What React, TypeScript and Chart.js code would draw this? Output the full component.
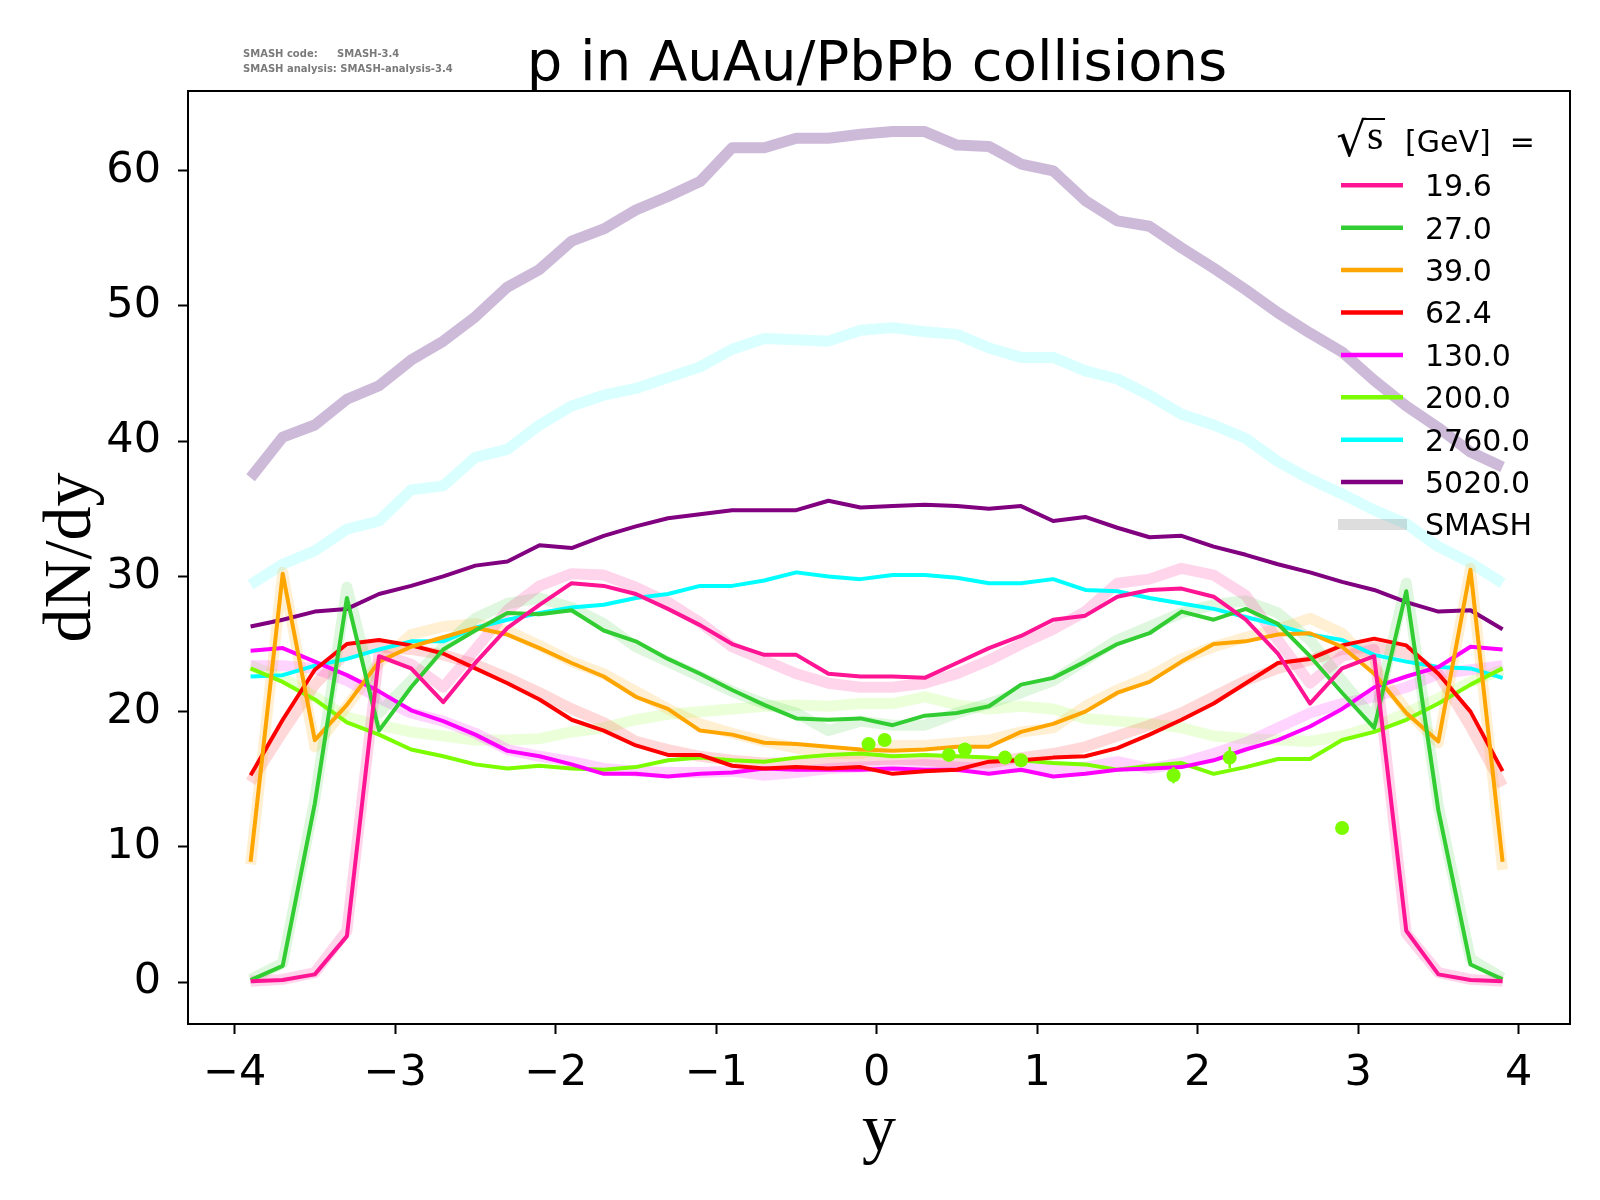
import React, { useEffect, useRef } from 'react';
import { Chart, registerables } from 'chart.js';

Chart.register(...registerables);

// ---------------- data ----------------
const rapidity = [
  -3.9, -3.7, -3.5, -3.3, -3.1, -2.9, -2.7, -2.5, -2.3, -2.1,
  -1.9, -1.7, -1.5, -1.3, -1.1, -0.9, -0.7, -0.5, -0.3, -0.1,
  0.1, 0.3, 0.5, 0.7, 0.9, 1.1, 1.3, 1.5, 1.7, 1.9,
  2.1, 2.3, 2.5, 2.7, 2.9, 3.1, 3.3, 3.5, 3.7, 3.9,
];

const energyLabels = ['19.6', '27.0', '39.0', '62.4', '130.0', '200.0', '2760.0', '5020.0'];
const lineColors = ['#FF1493', '#32CD32', '#FFA500', '#FF0000', '#FF00FF', '#7CFC00', '#00FFFF', '#800080'];
const smashColors = [
  'rgba(255,20,147,0.18)',
  'rgba(50,205,50,0.16)',
  'rgba(255,165,0,0.17)',
  'rgba(255,0,0,0.15)',
  'rgba(255,0,255,0.17)',
  'rgba(124,252,0,0.15)',
  'rgba(0,255,255,0.15)',
  'rgba(150,110,175,0.48)',
];

// measured curves (thin lines)
const dndy19 = [0.07, 0.15, 0.57, 3.4, 24.1, 23.2, 20.7, 23.6, 26.2, 27.9, 29.5, 29.3, 28.7, 27.6, 26.4, 25.0, 24.2, 24.2, 22.8, 22.6, 22.6, 22.5, 23.6, 24.7, 25.6, 26.8, 27.1, 28.5, 29.0, 29.1, 28.5, 26.8, 24.3, 20.6, 23.2, 24.1, 3.8, 0.57, 0.15, 0.07];
const dndy27 = [0.15, 1.2, 13.2, 28.4, 18.6, 21.8, 24.6, 26.0, 27.3, 27.2, 27.5, 26.0, 25.2, 23.9, 22.8, 21.6, 20.5, 19.5, 19.4, 19.5, 19.0, 19.7, 19.9, 20.4, 22.0, 22.5, 23.7, 25.0, 25.8, 27.4, 26.8, 27.6, 26.5, 24.1, 21.4, 18.8, 28.9, 12.7, 1.3, 0.2];
const dndy39 = [8.9, 30.2, 17.9, 20.5, 23.7, 24.8, 25.5, 26.2, 25.7, 24.7, 23.6, 22.6, 21.1, 20.2, 18.6, 18.3, 17.7, 17.6, 17.4, 17.2, 17.1, 17.2, 17.4, 17.4, 18.5, 19.1, 20.0, 21.4, 22.2, 23.7, 25.0, 25.2, 25.7, 25.8, 24.8, 22.8, 19.9, 17.8, 30.5, 8.9];
const dndy62 = [15.3, 19.4, 23.1, 25.0, 25.3, 24.9, 24.3, 23.2, 22.1, 20.9, 19.4, 18.6, 17.5, 16.8, 16.8, 16.0, 15.8, 15.9, 15.8, 15.9, 15.4, 15.6, 15.7, 16.3, 16.4, 16.6, 16.7, 17.3, 18.3, 19.4, 20.6, 22.1, 23.6, 23.9, 24.9, 25.4, 24.9, 22.8, 20.0, 15.6];
const dndy130 = [24.5, 24.7, 23.7, 22.7, 21.5, 20.1, 19.3, 18.3, 17.1, 16.7, 16.1, 15.4, 15.4, 15.2, 15.4, 15.5, 15.8, 15.7, 15.7, 15.7, 15.8, 15.7, 15.7, 15.4, 15.7, 15.2, 15.4, 15.7, 15.8, 15.9, 16.4, 17.2, 17.9, 18.9, 20.2, 21.8, 22.6, 23.3, 24.8, 24.6];
const dndy200 = [23.2, 22.2, 20.9, 19.2, 18.3, 17.2, 16.7, 16.1, 15.8, 16.0, 15.8, 15.7, 15.9, 16.4, 16.6, 16.4, 16.3, 16.6, 16.8, 16.9, 16.7, 16.8, 16.7, 16.6, 16.4, 16.2, 16.1, 15.7, 16.0, 16.2, 15.4, 15.9, 16.5, 16.5, 17.9, 18.5, 19.4, 20.6, 22.0, 23.2];
const dndy2760 = [22.6, 22.7, 23.4, 23.9, 24.6, 25.2, 25.2, 26.2, 26.8, 27.3, 27.7, 27.9, 28.4, 28.7, 29.3, 29.3, 29.7, 30.3, 30.0, 29.8, 30.1, 30.1, 29.9, 29.5, 29.5, 29.8, 29.0, 28.9, 28.4, 28.0, 27.6, 27.0, 26.4, 25.7, 25.3, 24.2, 23.7, 23.3, 23.2, 22.5];
const dndy5020 = [26.3, 26.8, 27.4, 27.6, 28.7, 29.3, 30.0, 30.8, 31.1, 32.3, 32.1, 33.0, 33.7, 34.3, 34.6, 34.9, 34.9, 34.9, 35.6, 35.1, 35.2, 35.3, 35.2, 35.0, 35.2, 34.1, 34.4, 33.6, 32.9, 33.0, 32.2, 31.6, 30.9, 30.3, 29.6, 29.0, 28.1, 27.4, 27.5, 26.1];

// SMASH curves (thick translucent lines)
const smash19 = [0.07, 0.2, 0.7, 3.8, 24.3, 23.5, 21.8, 24.6, 27.5, 29.3, 30.2, 30.1, 29.2, 28.1, 26.6, 24.8, 23.8, 22.8, 22.1, 21.8, 21.8, 22.1, 22.8, 23.8, 25.0, 26.1, 27.4, 29.5, 29.8, 30.6, 30.1, 28.6, 25.3, 22.1, 24.1, 24.6, 3.6, 0.7, 0.2, 0.07];
const smash27 = [0.2, 1.4, 13.5, 29.2, 19.9, 22.3, 24.8, 26.9, 28.0, 28.4, 27.7, 26.5, 24.8, 23.7, 22.6, 21.5, 20.6, 19.9, 18.6, 19.3, 19.0, 19.0, 19.9, 20.6, 21.4, 22.3, 23.8, 25.3, 26.3, 27.3, 27.9, 28.2, 27.3, 25.3, 22.3, 19.4, 29.5, 13.0, 1.7, 0.3];
const smash39 = [8.7, 30.3, 17.4, 20.4, 23.6, 25.7, 26.3, 26.5, 26.0, 24.9, 23.7, 22.8, 21.5, 20.2, 19.1, 18.4, 17.8, 17.3, 16.9, 16.9, 17.5, 17.5, 17.7, 17.9, 18.5, 18.8, 20.4, 21.6, 22.6, 23.9, 24.8, 25.5, 26.1, 26.9, 25.8, 23.3, 20.1, 17.7, 30.6, 8.3];
const smash62 = [14.8, 18.5, 22.0, 24.4, 24.8, 24.6, 24.2, 23.5, 22.5, 21.4, 20.2, 19.2, 17.8, 17.2, 16.7, 16.4, 16.2, 16.2, 16.2, 16.4, 16.5, 16.4, 16.2, 16.2, 16.6, 16.9, 17.4, 18.2, 19.0, 19.9, 21.1, 22.3, 23.2, 23.8, 24.6, 24.8, 24.3, 22.8, 18.9, 14.5];
const smash130 = [23.4, 23.4, 23.2, 22.3, 21.0, 19.9, 19.3, 18.4, 17.2, 16.7, 16.3, 15.8, 15.6, 15.5, 15.5, 15.6, 15.3, 15.5, 15.8, 15.9, 16.0, 16.1, 15.9, 15.8, 15.9, 15.8, 15.9, 16.3, 15.8, 16.2, 16.9, 17.7, 18.8, 19.9, 20.6, 21.1, 21.8, 22.8, 23.1, 23.4];
const smash200 = [23.4, 22.5, 21.1, 19.6, 19.0, 18.5, 18.2, 17.9, 17.9, 18.0, 18.5, 18.8, 19.4, 19.8, 20.0, 20.2, 20.4, 20.5, 20.4, 20.6, 20.6, 21.1, 20.5, 20.2, 20.4, 20.2, 19.5, 19.3, 19.1, 18.8, 18.2, 18.0, 17.9, 17.8, 18.2, 18.9, 19.9, 21.0, 22.2, 23.1];
const smash2760 = [29.4, 30.9, 31.9, 33.5, 34.1, 36.4, 36.7, 38.8, 39.4, 41.2, 42.6, 43.4, 43.9, 44.7, 45.5, 46.8, 47.6, 47.5, 47.4, 48.2, 48.4, 48.1, 47.9, 46.9, 46.2, 46.2, 45.2, 44.6, 43.4, 42.0, 41.2, 40.2, 38.5, 37.2, 36.1, 34.9, 33.9, 32.2, 31.0, 29.5];
const smash5020 = [37.3, 40.3, 41.2, 43.1, 44.1, 46.0, 47.4, 49.2, 51.4, 52.7, 54.8, 55.7, 57.1, 58.1, 59.2, 61.7, 61.7, 62.4, 62.4, 62.7, 62.9, 62.9, 61.9, 61.8, 60.5, 60.0, 57.8, 56.3, 55.9, 54.3, 52.8, 51.2, 49.5, 48.0, 46.6, 44.5, 42.6, 41.0, 39.2, 38.1];

// experimental points at 200 GeV
const expY = [-0.05, 0.05, 0.45, 0.55, 0.8, 0.9, 1.85, 2.2, 2.9];
const expDndy = [17.6, 17.9, 16.8, 17.2, 16.6, 16.4, 15.3, 16.6, 11.4];
const expErr = [0.3, 0.3, 0.3, 0.3, 0.3, 0.3, 0.6, 0.8, 0.3];

const xTicks = [-4, -3, -2, -1, 0, 1, 2, 3, 4];
const yTicks = [0, 10, 20, 30, 40, 50, 60];

const thinSeries = [dndy19, dndy27, dndy39, dndy62, dndy130, dndy200, dndy2760, dndy5020];
const smashSeries = [smash19, smash27, smash39, smash62, smash130, smash200, smash2760, smash5020];

const titleText = 'p in AuAu/PbPb collisions';
const xLabel = 'y';
const yLabel = 'dN/dy';
const smashLabel = 'SMASH';
const legendTitle = '[GeV]  =';

const SANS = '"DejaVu Sans", sans-serif';
const SERIF = '"Liberation Serif", "Times New Roman", serif';

const fmtTick = (v: number) => (v < 0 ? '\u2212' + Math.abs(v) : String(v));

const decorPlugin = {
  id: 'decor',
  afterDatasetsDraw(chart: any) {
    const ctx = chart.ctx;
    const xs = chart.scales.x;
    const ys = chart.scales.y;
    // error bars
    ctx.save();
    ctx.strokeStyle = lineColors[5];
    ctx.lineWidth = 2.5;
    expY.forEach((x, i) => {
      const px = xs.getPixelForValue(x);
      ctx.beginPath();
      ctx.moveTo(px, ys.getPixelForValue(expDndy[i] - expErr[i]));
      ctx.lineTo(px, ys.getPixelForValue(expDndy[i] + expErr[i]));
      ctx.stroke();
    });
    ctx.restore();
  },
  afterDraw(chart: any) {
    const ctx = chart.ctx;
    const a = chart.chartArea;
    ctx.save();
    // frame
    ctx.strokeStyle = '#000';
    ctx.lineWidth = 2;
    ctx.strokeRect(a.left, a.top, a.right - a.left, a.bottom - a.top);

    // title
    ctx.fillStyle = '#000';
    ctx.font = '56px ' + SANS;
    ctx.textAlign = 'center';
    ctx.textBaseline = 'alphabetic';
    ctx.fillText(titleText, 877, 80);

    // watermark
    ctx.fillStyle = '#7a7a7a';
    ctx.font = 'bold 10px ' + SANS;
    ctx.textAlign = 'left';
    ctx.fillText('SMASH code:', 243, 57);
    ctx.fillText('SMASH-3.4', 337, 57);
    ctx.fillText('SMASH analysis: SMASH-analysis-3.4', 243, 72);

    // legend title: sqrt(s) [GeV] =
    ctx.fillStyle = '#000';
    ctx.font = '60px "DejaVu Serif", serif';
    const m = ctx.measureText('\u221A');
    const gw = m.actualBoundingBoxLeft + m.actualBoundingBoxRight;
    const gh = m.actualBoundingBoxAscent + m.actualBoundingBoxDescent;
    const boxL = 1337, boxT = 118, boxW = 30, boxH = 40;
    ctx.save();
    ctx.translate(boxL, boxT);
    ctx.scale(boxW / gw, boxH / gh);
    ctx.fillText('\u221A', m.actualBoundingBoxLeft, m.actualBoundingBoxAscent);
    ctx.restore();
    ctx.strokeStyle = '#000';
    ctx.lineWidth = 2;
    ctx.beginPath();
    ctx.moveTo(boxL + boxW - 1, boxT + 1);
    ctx.lineTo(1385, boxT + 1);
    ctx.stroke();
    ctx.font = '42px ' + SERIF;
    ctx.fillText('s', 1367, 148.5);
    ctx.font = '30px ' + SANS;
    ctx.fillText(legendTitle, 1405, 151.7);

    // legend rows
    const rowStep = 42.4;
    energyLabels.forEach((lab, i) => {
      const cy = 185.3 + rowStep * i;
      ctx.strokeStyle = lineColors[i];
      ctx.lineWidth = 4.5;
      ctx.beginPath();
      ctx.moveTo(1341, cy);
      ctx.lineTo(1403, cy);
      ctx.stroke();
      ctx.fillStyle = '#000';
      ctx.fillText(lab, 1425, cy + 10.8);
    });
    const cyS = 185.3 + rowStep * energyLabels.length;
    ctx.strokeStyle = 'rgba(128,128,128,0.27)';
    ctx.lineWidth = 11;
    ctx.beginPath();
    ctx.moveTo(1338, cyS);
    ctx.lineTo(1407, cyS);
    ctx.stroke();
    ctx.fillStyle = '#000';
    ctx.fillText(smashLabel, 1425, cyS + 10.8);
    ctx.restore();
  },
};

export default function App() {
  const ref = useRef<HTMLCanvasElement | null>(null);

  useEffect(() => {
    document.body.style.margin = '0';
    const canvas = ref.current;
    if (!canvas) return;

    const toPts = (arr: number[]) => rapidity.map((x, i) => ({ x, y: arr[i] }));

    const datasets: any[] = [];
    // experimental points on top
    datasets.push({
      label: 'data 200',
      data: expY.map((x, i) => ({ x, y: expDndy[i] })),
      showLine: false,
      pointRadius: 7,
      pointBackgroundColor: lineColors[5],
      pointBorderWidth: 0,
      order: 0,
    });
    thinSeries.forEach((arr, i) => {
      datasets.push({
        label: energyLabels[i],
        data: toPts(arr),
        borderColor: lineColors[i],
        borderWidth: 4,
        pointRadius: 0,
        fill: false,
        tension: 0,
        borderJoinStyle: 'round',
        order: 1,
      });
    });
    smashSeries.forEach((arr, i) => {
      datasets.push({
        label: 'SMASH ' + energyLabels[i],
        data: toPts(arr),
        borderColor: smashColors[i],
        borderWidth: 11,
        pointRadius: 0,
        fill: false,
        tension: 0,
        borderJoinStyle: 'round',
        order: 2,
      });
    });

    const chart = new Chart(canvas, {
      type: 'line',
      data: { datasets },
      options: {
        animation: false,
        responsive: false,
        devicePixelRatio: 1,
        events: [],
        layout: { padding: { top: 91, right: 30, left: 0, bottom: 0 } },
        plugins: {
          legend: { display: false },
          tooltip: { enabled: false },
          title: { display: false },
        },
        scales: {
          x: {
            type: 'linear',
            min: -4.29,
            max: 4.32,
            afterFit: (s: any) => { s.height = 176; },
            afterBuildTicks: (s: any) => { s.ticks = xTicks.map((v) => ({ value: v })); },
            grid: { display: true, drawOnChartArea: false, drawTicks: true, tickLength: 10, tickWidth: 2, tickColor: '#000' },
            border: { display: true, color: '#000', width: 2 },
            ticks: {
              color: '#000',
              font: { family: SANS, size: 43 },
              padding: 14,
              maxRotation: 0,
              autoSkip: false,
              callback: (v: any) => fmtTick(Number(v)),
            },
            title: {
              display: true,
              text: xLabel,
              color: '#000',
              font: { family: SERIF, size: 68, lineHeight: 1.2 },
              padding: { top: 0, bottom: 26 },
            },
          },
          y: {
            type: 'linear',
            min: -3.1,
            max: 65.9,
            afterFit: (s: any) => { s.width = 188; },
            afterBuildTicks: (s: any) => { s.ticks = yTicks.map((v) => ({ value: v })); },
            grid: { display: true, drawOnChartArea: false, drawTicks: true, tickLength: 10, tickWidth: 2, tickColor: '#000' },
            border: { display: true, color: '#000', width: 2 },
            ticks: {
              color: '#000',
              font: { family: SANS, size: 43 },
              padding: 17,
              autoSkip: false,
              callback: (v: any) => fmtTick(Number(v)),
            },
            title: {
              display: true,
              text: yLabel,
              color: '#000',
              font: { family: SERIF, size: 68, lineHeight: 1.2 },
              padding: { top: 31, bottom: 0 },
            },
          },
        },
      },
      plugins: [decorPlugin],
    });
    return () => chart.destroy();
  }, []);

  return (
    <div style={{ width: 1600, height: 1200, position: 'relative', background: '#fff' }}>
      <canvas ref={ref} width={1600} height={1200} style={{ display: 'block', width: 1600, height: 1200 }} />
    </div>
  );
}
